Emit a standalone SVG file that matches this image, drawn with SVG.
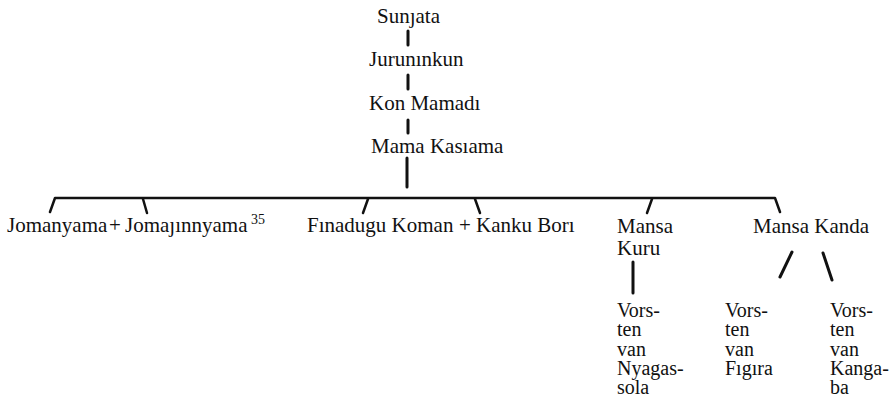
<svg xmlns="http://www.w3.org/2000/svg" width="894" height="405" viewBox="0 0 894 405">
<style>
text{font-family:"Liberation Serif","Times New Roman",serif;font-size:21px;fill:#111}
.sup{font-size:14px}
.st text{font-size:20px}
.c{stroke:#111;stroke-width:3;stroke-linecap:round;fill:none}
.b{stroke:#111;stroke-width:2.5;stroke-linecap:round;stroke-linejoin:round;fill:none}
</style>
<rect width="894" height="405" fill="#fff"/>
<g id="connectors">
<line class="c" x1="408" y1="31" x2="408" y2="45"/>
<line class="c" x1="408" y1="75" x2="408" y2="89"/>
<line class="c" x1="408" y1="120" x2="408" y2="133"/>
<line class="c" x1="407" y1="158" x2="407" y2="187"/>
<path class="b" d="M50,212 L55,198 L775,198 L780,212"/>
<line class="b" x1="143" y1="199" x2="147" y2="213"/>
<line class="b" x1="368" y1="199" x2="363" y2="213"/>
<line class="b" x1="475" y1="199" x2="480" y2="213"/>
<line class="b" x1="652" y1="199" x2="647" y2="213"/>
<line class="c" x1="633" y1="262" x2="633" y2="293"/>
<line class="c" x1="792" y1="252" x2="780" y2="277"/>
<line class="c" x1="823" y1="253" x2="832" y2="280"/>
</g>
<g id="sunjata"><text x="377" y="23">Sunȷata</text></g>
<g id="juruninkun"><text x="369" y="66">Jurunınkun</text></g>
<g id="kon-mamadi"><text x="369" y="110">Kon Mamadı</text></g>
<g id="mama-kasiama"><text x="371" y="153">Mama Kasıama</text></g>
<g id="jomanyama"><text x="7" y="232">Jomanyama<tspan x="109">+</tspan><tspan x="125">Jomaȷınnyama</tspan><tspan class="sup" x="251" dy="-8">35</tspan></text></g>
<g id="finadugu"><text x="307" y="232">Fınadugu Koman<tspan x="459">+</tspan><tspan x="476">Kanku Borı</tspan></text></g>
<g id="mansa-kuru"><text x="617" y="233">Mansa</text><text x="617" y="255">Kuru</text></g>
<g id="mansa-kanda"><text x="753" y="233">Mansa Kanda</text></g>
<g id="nyagassola" class="st"><text x="617" y="317">Vors-</text><text x="617" y="336">ten</text><text x="617" y="356">van</text><text x="617" y="375">Nyagas-</text><text x="617" y="394">sola</text></g>
<g id="figira" class="st"><text x="725" y="317">Vors-</text><text x="725" y="336">ten</text><text x="725" y="356">van</text><text x="725" y="375">Fıgıra</text></g>
<g id="kangaba" class="st"><text x="830" y="317">Vors-</text><text x="830" y="336">ten</text><text x="830" y="356">van</text><text x="830" y="375">Kanga-</text><text x="830" y="394">ba</text></g>
</svg>
